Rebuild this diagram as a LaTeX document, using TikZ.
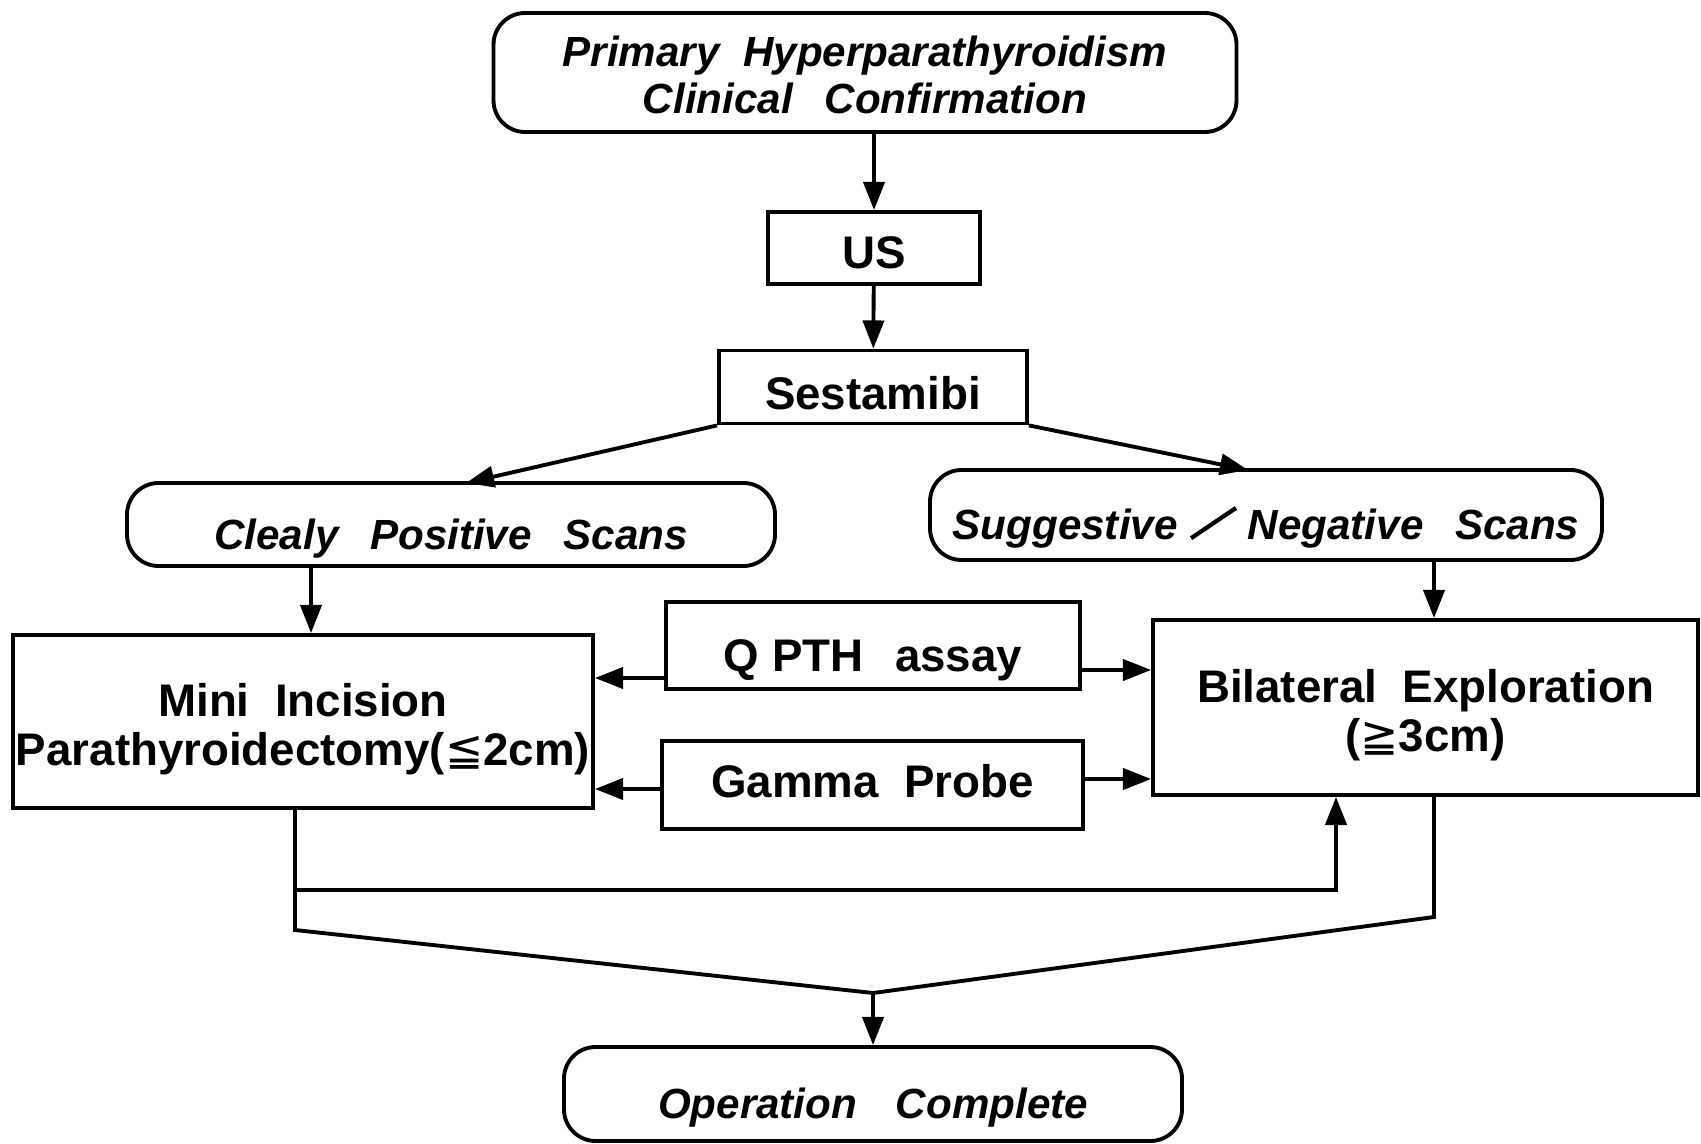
\documentclass[tikz,border=0pt]{standalone}
\usepackage{fontspec}
\setmainfont{Liberation Sans}
\newfontfamily\dejavu{DejaVu Sans}
\usetikzlibrary{arrows.meta}
\newcommand{\gap}{\hspace{9pt}}
\newcommand{\lift}[1]{\rule{0pt}{#1}}
\begin{document}
\begin{tikzpicture}[
    box/.style={draw, line width=1.1pt, align=center, inner sep=0pt,
      font=\fontsize{13}{14}\selectfont\bfseries},
    rbox/.style={box, rounded corners=9pt,
      font=\fontsize{12}{13.3}\selectfont\bfseries\itshape},
    oneline/.style={text height=14.9pt, text depth=2pt},
    slant/.style={text height=16.2pt, text depth=2pt},
    link/.style={line width=1.1pt, -{Triangle[length=8pt,width=6pt]}},
    wire/.style={line width=1.1pt}
  ]
  \useasboundingbox (0,0) rectangle (17.01,-11.44);
  % boxes
  \node[rbox, minimum width=7.43cm, minimum height=1.19cm] (phpt) at (8.65,-0.725)
    {\lift{10pt}Primary\ \ Hyperparathyroidism\\Clinical\gap Confirmation};
  \node[box, oneline, text height=13.4pt, minimum width=2.12cm, minimum height=0.72cm] (us) at (8.74,-2.48) {US};
  \node[box, oneline, minimum width=3.08cm, minimum height=0.73cm] (mibi) at (8.73,-3.87) {Sestamibi};
  \node[rbox, slant, minimum width=6.48cm, minimum height=0.83cm] (pos) at (4.51,-5.245)
    {Clealy\gap Positive\gap Scans};
  \node[rbox, slant, minimum width=6.72cm, minimum height=0.90cm] (neg) at (12.66,-5.15)
    {Suggestive\hspace{3.5pt}\rotatebox{34}{\rule{15.4pt}{1.2pt}}\hspace{3pt}Negative\gap Scans};
  \node[box, oneline, text height=17pt, minimum width=4.14cm, minimum height=0.87cm] (qpth) at (8.73,-6.455)
    {Q PTH\gap assay};
  \node[box, text height=9.1pt, text depth=2pt, minimum width=4.21cm, minimum height=0.88cm] (gamma) at (8.725,-7.85)
    {Gamma\ \ Probe};
  \node[box, minimum width=5.80cm, minimum height=1.73cm] (mini) at (3.03,-7.215)
    {\lift{14pt}Mini\ \ Incision\\Parathyroidectomy({\dejavu\mdseries ≦}2cm)};
  \node[box, minimum width=5.45cm, minimum height=1.75cm] (bilat) at (14.255,-7.075)
    {\lift{14pt}Bilateral\ \ Exploration\\({\dejavu\mdseries ≧}3cm)};
  \node[rbox, slant, minimum width=6.18cm, minimum height=0.94cm] (done) at (8.73,-10.94)
    {Operation\hspace{11pt}Complete};
  % branch points
  \coordinate (posin) at (4.66,-4.83);
  \coordinate (negin) at (12.48,-4.70);
  \coordinate (miniout) at (2.95,-9.30);
  \coordinate (cross) at (2.95,-8.90);
  \coordinate (bilatout) at (14.34,-9.17);
  \coordinate (merge) at (8.73,-9.93);
  % connectors
  \draw[link] (phpt.south -| us) -- (us);
  \draw[link] (us) -- (mibi);
  \draw[link] (mibi.south west) -- (posin);
  \draw[link] (mibi.south east) -- (negin);
  \draw[link] (pos.south -| 3.11,0) -- (mini.north -| 3.11,0);
  \draw[link] (neg.south -| 14.34,0) -- (bilat.north -| 14.34,0);
  \draw[link] (qpth.west |- 0,-6.78) -- (mini.east |- 0,-6.78);
  \draw[link] (qpth.east |- 0,-6.70) -- (bilat.west |- 0,-6.70);
  \draw[link] (gamma.west |- 0,-7.89) -- (mini.east |- 0,-7.89);
  \draw[link] (gamma.east |- 0,-7.79) -- (bilat.west |- 0,-7.79);
  \draw[wire] (mini.south -| miniout) -- (miniout) -- (merge);
  \draw[link] (cross) -- (cross -| 13.36,0) -- (bilat.south -| 13.36,0);
  \draw[wire] (bilat.south -| bilatout) -- (bilatout) -- (merge);
  \draw[link] (merge) -- (done);
\end{tikzpicture}
\end{document}
